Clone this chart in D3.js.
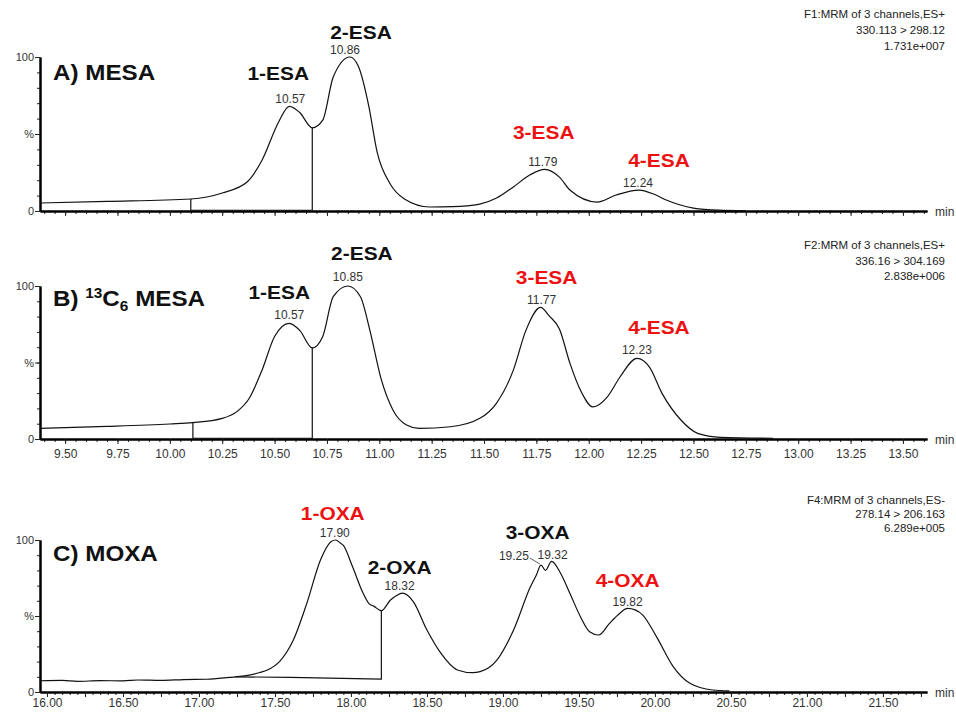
<!DOCTYPE html>
<html>
<head>
<meta charset="utf-8">
<script src="https://cdn.jsdelivr.net/npm/d3@7"></script>
<style>
  body { margin: 0; background: #fff; }
  text { font-family: Arial, "Liberation Sans", sans-serif; }
</style>
</head>
<body>
<svg></svg>
<script>
// ---- data: retention time (min), relative intensity (%) ----
const traceA = [[9.38,5.2],[9.7,6.2],[10.10,7.8],[10.25,11.7],[10.37,19],[10.44,33],[10.52,58],[10.57,68],[10.62,64],
  [10.68,54],[10.73,59],[10.78,87],[10.86,100],[10.90,94],[10.95,68],[10.99,38],[11.05,18],[11.12,7.8],[11.24,2.6],
  [11.35,2.8],[11.48,4.5],[11.56,8.4],[11.64,15.6],[11.72,23.5],[11.79,27],[11.86,22],[11.91,13.6],[12.04,5.8],
  [12.13,10.4],[12.24,13.6],[12.31,11],[12.37,7.1],[12.50,1.9],[12.62,0.6],[12.75,0.3]];
const traceB = [[9.38,7.0],[9.7,8.2],[10.0,9.8],[10.11,10.7],[10.25,13.5],[10.32,17.9],[10.38,26.8],[10.44,45],[10.50,67],
  [10.57,75.6],[10.62,71],[10.68,59.5],[10.73,67],[10.78,93],[10.85,100],[10.91,93],[10.955,71],[11.01,38.6],[11.065,19],
  [11.13,9.2],[11.19,7],[11.34,8],[11.48,13.5],[11.56,23.5],[11.64,45],[11.70,71],[11.77,86],[11.81,80.6],[11.86,71.9],
  [11.91,49.6],[11.96,32],[12.02,21],[12.09,27.7],[12.15,40.7],[12.23,52.7],[12.29,47],[12.35,29.8],[12.44,12.4],
  [12.52,3.7],[12.63,1.1],[12.88,0.5]];
const traceC = [[15.954,7.4],[16.1,7.6],[16.2,7.0],[16.35,7.5],[16.5,7.3],[16.6,7.9],[16.75,7.6],[16.9,8.2],[17.05,8.4],
  [17.2,9.6],[17.3,10.6],[17.4,12.8],[17.45,14.5],[17.53,20],[17.62,34],[17.71,58.5],[17.80,87],[17.87,99],[17.90,100],
  [17.93,98],[17.95,96.5],[18.01,82.5],[18.08,65],[18.12,58],[18.15,56.5],[18.2,53.5],[18.26,60.5],[18.30,63.5],
  [18.34,65],[18.37,63.8],[18.41,59.4],[18.5,40.8],[18.59,25.7],[18.7,14.5],[18.8,12.7],[18.85,13.4],[18.96,21],
  [19.07,40.8],[19.18,69],[19.22,77],[19.25,83.5],[19.28,80],[19.32,86],[19.38,78],[19.44,65],[19.51,49.5],[19.57,39.7],
  [19.63,37.5],[19.70,45],[19.76,51],[19.82,55],[19.87,54],[19.92,50.6],[20.01,36.4],[20.12,16.7],[20.23,5.7],
  [20.38,1.3],[20.49,0.7]];

// integration cut lines
const cutsA = [[10.10,7.8],[10.10,0.5],[10.68,0.5],[10.68,54]];
const cutsB = [[10.11,10.7],[10.11,0.5],[10.68,0.5],[10.68,59.5]];
const cutsC = [[17.24,10.0],[17.6,9.6],[18.2,8.5],[18.2,53.5]];

// peaks: name, label, time, height
const peaksA = [['1-ESA','10.57',10.57,68],['2-ESA','10.86',10.86,100],['3-ESA','11.79',11.79,27],['4-ESA','12.24',12.24,13.6]];
const peaksB = [['1-ESA','10.57',10.57,75.6],['2-ESA','10.85',10.85,100],['3-ESA','11.77',11.77,86],['4-ESA','12.23',12.23,52.7]];
const peaksC = [['1-OXA','17.90',17.90,100],['2-OXA','18.32',18.32,65],['3-OXA','19.32',19.32,86],['4-OXA','19.82',19.82,55]];

const headerA = ['F1:MRM of 3 channels,ES+', '330.113 > 298.12', '1.731e+007'];
const headerB = ['F2:MRM of 3 channels,ES+', '336.16 > 304.169', '2.838e+006'];
const headerC = ['F4:MRM of 3 channels,ES-', '278.14 > 206.163', '6.289e+005'];

// ---- layout ----
const W = 956, H = 712;
const svg = d3.select('svg').attr('width', W).attr('height', H);
const red = new Set(['3-ESA', '4-ESA', '1-OXA', '4-OXA']);

const panels = [
  {title: 'A) MESA', top: 57, bottom: 211, domain: [9.38, 13.615], labelStep: 0, majorStep: 0.25, labelDy: '0.9em',
   trace: traceA, cuts: cutsA, peaks: peaksA, header: headerA, headerY: [18, 34, 50], titleY: 80,
   off: [[-11,-26,1,-3],[11,-18,-5,-3],[-1,-30,-2,-3],[20,-23,-1,-3]]},
  {title: 'B', top: 286, bottom: 439, domain: [9.38, 13.615], labelStep: 0.25, majorStep: 0.25, labelDy: '0.9em',
   trace: traceB, cuts: cutsB, peaks: peaksB, header: headerB, headerY: [249, 265, 280], titleY: 306,
   off: [[-10,-24,0,-4],[14,-26,0,-5],[6,-23,1,-3],[22,-24,0,-4]]},
  {title: 'C) MOXA', top: 540, bottom: 692, domain: [15.954, 21.79], labelStep: 0.5, majorStep: 0.25, labelDy: '0.62em',
   trace: traceC, cuts: cutsC, peaks: peaksC, header: headerC, headerY: [504, 518, 532], titleY: 561,
   off: [[-3,-20,-1,-3],[0,-19,0,-3],[-14,-22,1,-2],[0,-21,0,-2]]}
];

function stretched (g, x, y, str, size, color) {
  return g.append('text')
    .attr('transform', 'translate(' + x + ',' + y + ') scale(1.1,1)')
    .attr('text-anchor', 'middle')
    .attr('font-size', size)
    .attr('font-weight', 'bold')
    .attr('fill', color)
    .text(str);
}

panels.forEach(function (p) {
  const g = svg.append('g');
  const x = d3.scaleLinear().domain(p.domain).range([40, 927]);
  const y = d3.scaleLinear().domain([0, 100]).range([p.bottom, p.top]);

  // x axis: minor ticks every 0.05, major every 0.25
  const n0 = Math.ceil(p.domain[0] * 20), n1 = Math.floor(p.domain[1] * 20);
  const minor = d3.range(n0, n1 + 1).map(i => i / 20);
  const major = minor.filter(v => Math.abs(v / p.majorStep - Math.round(v / p.majorStep)) < 1e-6);
  const xa = g.append('g').attr('transform', 'translate(0,' + p.bottom + ')');
  xa.call(d3.axisBottom(x).tickValues(minor).tickSize(3).tickSizeOuter(0).tickFormat(''));
  const xb = g.append('g').attr('transform', 'translate(0,' + p.bottom + ')');
  xb.call(d3.axisBottom(x).tickValues(major).tickSize(5).tickSizeOuter(0)
    .tickFormat(d => (p.labelStep && Math.abs(d / p.labelStep - Math.round(d / p.labelStep)) < 1e-6) ? d.toFixed(2) : ''));
  [xa, xb].forEach(a => {
    a.select('.domain').attr('stroke-width', 2);
    a.selectAll('.tick line').attr('stroke', '#222');
    a.selectAll('.tick text').attr('font-size', 12).attr('fill', '#333').attr('dy', p.labelDy)
      .style('font-family', 'Arial, "Liberation Sans", sans-serif');
  });
  g.append('text').attr('x', 935).attr('y', p.bottom + 5).attr('font-size', 12).attr('fill', '#333').text('min');

  // y axis
  const ya = g.append('g').attr('transform', 'translate(40,0)');
  ya.call(d3.axisLeft(y).tickValues(d3.range(0, 101, 10)).tickSize(3).tickSizeOuter(0).tickFormat(''));
  const yb = g.append('g').attr('transform', 'translate(40,0)');
  yb.call(d3.axisLeft(y).tickValues([0, 50, 100]).tickSize(5).tickSizeOuter(0)
    .tickFormat(d => d === 50 ? '%' : d));
  [ya, yb].forEach(a => {
    a.select('.domain').attr('stroke-width', 2);
    a.selectAll('.tick line').attr('stroke', '#222');
    a.selectAll('.tick text').attr('font-size', 11).attr('fill', '#333').attr('x', -6)
      .style('font-family', 'Arial, "Liberation Sans", sans-serif');
  });

  // trace
  const line = d3.line().x(d => x(d[0])).y(d => y(d[1])).curve(d3.curveMonotoneX);
  g.append('path').datum(p.trace).attr('d', line)
    .attr('fill', 'none').attr('stroke', '#111').attr('stroke-width', 1.2);
  g.append('path').datum(p.cuts).attr('d', d3.line().x(d => x(d[0])).y(d => y(d[1])))
    .attr('fill', 'none').attr('stroke', '#111').attr('stroke-width', 1.2);

  // header text
  p.header.forEach((t, i) => {
    g.append('text').attr('x', 945).attr('y', p.headerY[i]).attr('text-anchor', 'end')
      .attr('font-size', 11.5).attr('fill', '#222').text(t);
  });

  // title
  if (p.title === 'B') {
    const t = g.append('text').attr('transform', 'translate(53,' + p.titleY + ') scale(1.1,1)')
      .attr('font-size', 22).attr('font-weight', 'bold').attr('fill', '#111');
    t.append('tspan').text('B) ');
    t.append('tspan').attr('font-size', 14).attr('dy', -8).text('13');
    t.append('tspan').attr('dy', 8).text('C');
    t.append('tspan').attr('font-size', 14).attr('dy', 5).text('6');
    t.append('tspan').attr('dy', -5).text(' MESA');
  } else {
    g.append('text').attr('transform', 'translate(53,' + p.titleY + ') scale(1.1,1)')
      .attr('font-size', 22).attr('font-weight', 'bold').attr('fill', '#111').text(p.title);
  }

  // peak labels
  p.peaks.forEach((pk, i) => {
    const px = x(pk[2]), py = y(pk[3]), o = p.off[i];
    stretched(g, px + o[0], py + o[1], pk[0], 19, red.has(pk[0]) ? '#ee1111' : '#111');
    g.append('text').attr('x', px + o[2]).attr('y', py + o[3]).attr('text-anchor', 'middle')
      .attr('font-size', 12).attr('fill', '#333').text(pk[1]);
  });

  // extra split-peak label on 3-OXA
  if (p.title === 'C) MOXA') {
    const sx = x(19.25), sy = y(83.5);
    g.append('text').attr('x', sx - 12).attr('y', sy - 5).attr('text-anchor', 'end')
      .attr('font-size', 12).attr('fill', '#333').text('19.25');
    g.append('line').attr('x1', sx - 11).attr('y1', sy - 7).attr('x2', sx - 1).attr('y2', sy - 1)
      .attr('stroke', '#333').attr('stroke-width', 0.8);
  }
});
</script>
</body>
</html>
